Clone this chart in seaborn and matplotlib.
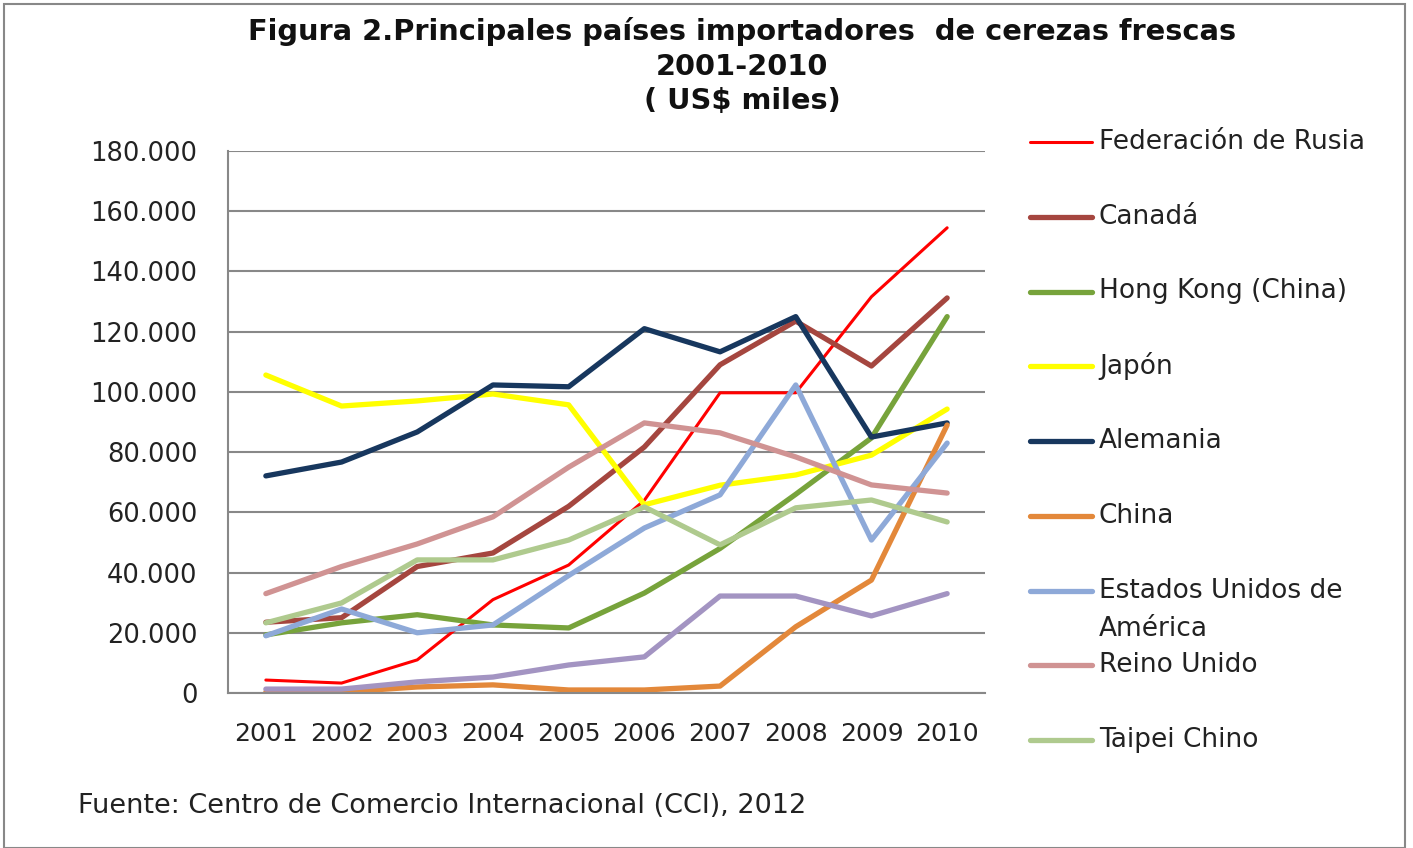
import matplotlib
matplotlib.use('Agg')
import matplotlib.pyplot as plt
import matplotlib.ticker as mticker
from matplotlib.lines import Line2D
from matplotlib.patches import Rectangle
import numpy as np
import pandas as pd
import seaborn as sns

years = ['2001', '2002', '2003', '2004', '2005', '2006', '2007', '2008', '2009', '2010']

rusia = [4300, 3300, 11000, 31000, 42500, 64000, 99700, 99700, 131600, 154500]
canada = [23500, 25000, 42000, 46500, 62000, 81700, 109000, 123500, 108600, 131200]
hong_kong = [19300, 23300, 26000, 22600, 21600, 33200, 48000, 66000, 84700, 125000]
japon = [105600, 95300, 97000, 99300, 95700, 62500, 69000, 72400, 79000, 94300]
alemania = [72100, 76700, 86700, 102300, 101700, 121000, 113300, 125000, 85000, 89700]
china = [300, 300, 2000, 2700, 1000, 1000, 2300, 22000, 37500, 89000]
eeuu = [19000, 27900, 20000, 22600, 39000, 54800, 65800, 102300, 50800, 83000]
reino_unido = [33000, 42000, 49500, 58500, 75000, 89700, 86400, 78400, 69100, 66400]
taipei = [23300, 29900, 44200, 44200, 50800, 61800, 49200, 61500, 64100, 56800]
otro = [1300, 1300, 3700, 5300, 9300, 12000, 32200, 32200, 25600, 33000]

series_names = ['Federación de Rusia', 'Canadá', 'Hong Kong (China)', 'Japón', 'Alemania',
                'China', 'Estados Unidos de\nAmérica', 'Reino Unido', 'Taipei Chino', '']
series_values = [rusia, canada, hong_kong, japon, alemania, china, eeuu, reino_unido, taipei, otro]
colors = ['#FF0000', '#A5463F', '#77A33B', '#FFFF00', '#17375E',
          '#E3883A', '#8EA9D8', '#D09393', '#AFCA8E', '#A394C2']
widths = [2.2, 3.8, 3.8, 3.8, 3.8, 3.8, 3.8, 3.8, 3.8, 3.8]

sns.set_style('white')
plt.rcParams['font.family'] = ['DejaVu Sans']

W, H = 1413, 848
fig = plt.figure(figsize=(W / 100, H / 100), dpi=100)
ax = fig.add_axes([228 / W, 1 - 693 / H, (985 - 228) / W, (693 - 151) / H])

x = np.arange(len(years))
for name, vals, col, lw in zip(series_names, series_values, colors, widths):
    df = pd.DataFrame({'x': x, 'y': vals})
    sns.lineplot(data=df, x='x', y='y', color=col, linewidth=lw, ax=ax,
                 solid_capstyle='round', solid_joinstyle='round')

ax.set_xlim(-0.5, len(years) - 0.5)
ax.set_ylim(0, 180000)
ax.set_xlabel('')
ax.set_ylabel('')
ax.set_yticks(np.arange(0, 180001, 20000))
ax.yaxis.set_major_formatter(mticker.FuncFormatter(lambda v, p: f'{int(v):,}'.replace(',', '.')))
ax.set_xticks(x)
ax.set_xticklabels(years)
ax.set_xticks(np.arange(-0.5, len(years), 1), minor=True)
ax.tick_params(axis='x', which='major', length=0, pad=21, labelsize=18, colors='#222222')
ax.tick_params(axis='x', which='minor', length=8, width=1.5, color='#888888', direction='out')
ax.tick_params(axis='y', length=8, width=1.5, color='#888888', direction='out', pad=14,
               labelsize=18.5, labelcolor='#222222')
ax.grid(axis='y', color='#888888', linewidth=1.5)
ax.set_axisbelow(True)
for s in ['top', 'right']:
    ax.spines[s].set_visible(False)
for s in ['left', 'bottom']:
    ax.spines[s].set_color('#888888')
    ax.spines[s].set_linewidth(1.5)

# titulo
fig.text(742 / W, 1 - 32 / H, 'Figura 2.Principales países importadores  de cerezas frescas',
         ha='center', va='center', fontsize=20.8, fontweight='bold', color='#111111')
fig.text(742 / W, 1 - 67 / H, '2001-2010', ha='center', va='center',
         fontsize=20.8, fontweight='bold', color='#111111')
fig.text(742 / W, 1 - 101 / H, '( US$ miles)', ha='center', va='center',
         fontsize=20.8, fontweight='bold', color='#111111')

# leyenda
for i, (name, col, lw) in enumerate(zip(series_names[:9], colors, widths)):
    yc = 142 + i * 74.75
    fig.add_artist(Line2D([1030 / W, 1092 / W], [1 - yc / H, 1 - yc / H], color=col,
                          linewidth=lw, solid_capstyle='round', transform=fig.transFigure))
    for j, line in enumerate(name.split('\n')):
        fig.text(1099 / W, 1 - (yc + j * 38) / H, line, ha='left', va='center',
                 fontsize=19, color='#222222')

fig.text(78 / W, 1 - 806 / H, 'Fuente: Centro de Comercio Internacional (CCI), 2012',
         ha='left', va='center', fontsize=19.5, color='#222222')

fig.add_artist(Rectangle((4 / W, 0), (1405 - 4) / W, (H - 4) / H, fill=False,
                         edgecolor='#888888', linewidth=1.5, transform=fig.transFigure))

fig.savefig('out.png', dpi=100)
